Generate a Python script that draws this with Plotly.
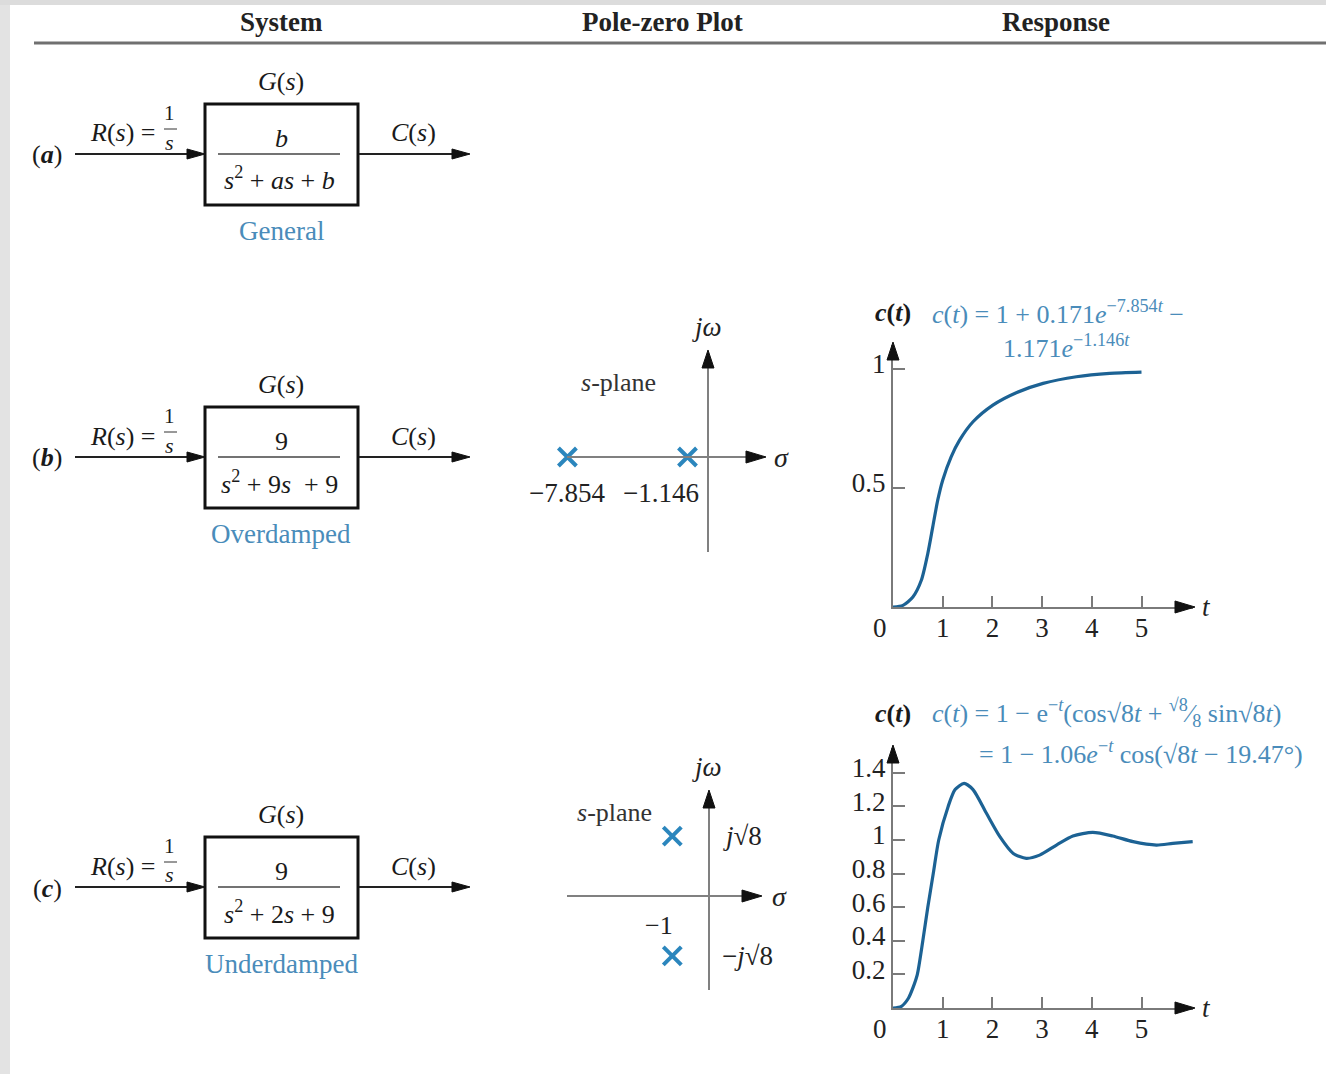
import plotly.graph_objects as go

W, H = 1326, 1074
FONT = "Liberation Serif, Times New Roman, serif"
BLUE_TXT = "#4a8cba"
CURVE = "#1c6294"
POLE = "#2b86bd"
DARK = "#1a1a1a"
AXIS_GREY = "#7a7a7a"

# ---------------- data ----------------
headers = ["System", "Pole-zero Plot", "Response"]
row_tags = ["a", "b", "c"]
numerators = ["<i>b</i>", "9", "9"]
denominators = ["<i>s</i><sup>2</sup> + <i>as</i> + <i>b</i>",
                "<i>s</i><sup>2</sup> + 9<i>s</i>  + 9",
                "<i>s</i><sup>2</sup> + 2<i>s</i> + 9"]
captions = ["General", "Overdamped", "Underdamped"]

poles_b_re = [-7.854, -1.146]
poles_b_im = [0, 0]
poles_c_re = [-1, -1]
poles_c_im = [2.828, -2.828]

t_over = [0, 0.2, 0.4, 0.57, 0.7, 0.8, 0.9, 1.0, 1.17, 1.34, 1.61, 2.01, 2.48, 3.02, 3.69, 4.36, 5.0]
c_over = [0, 0.007, 0.042, 0.112, 0.224, 0.336, 0.448, 0.532, 0.63, 0.70, 0.777, 0.847, 0.899, 0.938, 0.966, 0.98, 0.985]

t_under = [0, 0.17, 0.31, 0.41, 0.49, 0.60, 0.70, 0.81, 0.92, 1.11, 1.25, 1.43, 1.61, 1.88, 2.15,
           2.42, 2.68, 2.95, 3.29, 3.62, 4.02, 4.42, 4.83, 5.30, 5.63, 6.03]
c_under = [0, 0.01, 0.058, 0.127, 0.2, 0.4, 0.6, 0.8, 1.0, 1.2, 1.30, 1.337, 1.30, 1.159, 1.02,
           0.92, 0.891, 0.91, 0.97, 1.024, 1.045, 1.024, 0.99, 0.97, 0.98, 0.99]

ticks_t = [1, 2, 3, 4, 5]
ticks_over_y = [0.5, 1]
ticks_under_y = [0.2, 0.4, 0.6, 0.8, 1, 1.2, 1.4]

# ---------------- helpers (pixel -> paper) ----------------
def px(x):
    return x / W

def py(y):
    return 1 - y / H

shapes = []
annotations = []

def line(x0, y0, x1, y1, color=DARK, width=2):
    shapes.append(dict(type="line", xref="paper", yref="paper",
                       x0=px(x0), y0=py(y0), x1=px(x1), y1=py(y1),
                       line=dict(color=color, width=width)))

def rect(x0, y0, x1, y1, color=None, width=0, fill=None, layer="above"):
    shapes.append(dict(type="rect", xref="paper", yref="paper", layer=layer,
                       x0=px(x0), y0=py(y0), x1=px(x1), y1=py(y1),
                       line=dict(color=color or "rgba(0,0,0,0)", width=width),
                       fillcolor=fill or "rgba(0,0,0,0)"))

def head(xt, yt, direction, L=18, hw=5, color="#111"):
    if direction == "right":
        pts = [(xt, yt), (xt - L, yt - hw), (xt - L, yt + hw)]
    else:
        pts = [(xt, yt), (xt - hw, yt + L), (xt + hw, yt + L)]
    path = "M " + " L ".join(f"{px(a):.5f},{py(b):.5f}" for a, b in pts) + " Z"
    shapes.append(dict(type="path", xref="paper", yref="paper", path=path,
                       fillcolor=color, line=dict(color=color, width=1)))

def text(x, y, s, size=26, color=DARK, xanchor="center"):
    annotations.append(dict(x=px(x), y=py(y), xref="paper", yref="paper", text=s,
                            showarrow=False, xanchor=xanchor, yanchor="middle",
                            font=dict(family=FONT, size=size, color=color)))

# ---------------- background frame ----------------
rect(0, 0, 10, H, fill="#e3e3e3", layer="below")
rect(0, 0, W, 5, fill="#dcdcdc", layer="below")

# ---------------- headers ----------------
for hx, htxt in zip([281, 662, 1056], headers):
    text(hx, 22, f"<b>{htxt}</b>", 27, "#222")
line(34, 43, W, 43, "#707070", 3)

# ---------------- block diagrams ----------------
line_y = [154, 457, 887]
for i, ly in enumerate(line_y):
    text(47, ly + 1, f"(<b><i>{row_tags[i]}</i></b>)", 26, DARK)
    line(75, ly, 190, ly, "#222", 2)
    head(205, ly, "right", 18, 5)
    rect(205, ly - 50, 358, ly + 51, color="#111", width=3)
    line(218, ly, 340, ly, "#444", 1.5)
    text(281, ly - 16, numerators[i], 26)
    text(279, ly + 25, denominators[i], 26)
    text(281, ly - 73, "<i>G</i>(<i>s</i>)", 26)
    text(281, ly + 77, captions[i], 27, BLUE_TXT)
    text(158, ly - 21, "<i>R</i>(<i>s</i>) =", 26, xanchor="right")
    text(170, ly - 41, "1", 21)
    line(164, ly - 25, 177, ly - 25, "#333", 1)
    text(170, ly - 12, "<i>s</i>", 22)
    line(359, ly, 455, ly, "#222", 2)
    head(470, ly, "right", 18, 5)
    text(413, ly - 21, "<i>C</i>(<i>s</i>)", 26)

# ---------------- response axes geometry ----------------
OX = 893
T_PX = 49.7
X_END = 1193
RB_Y0, RB_TOP, RB_K = 607, 345, 238.4
RC_Y0, RC_TOP, RC_K = 1008, 748, 168.0

tick_font = dict(family=FONT, size=27, color="#222")

def resp_xaxis(anchor):
    return dict(domain=[px(OX), px(X_END)], range=[0, (X_END - OX) / T_PX], anchor=anchor,
                showline=True, linecolor=AXIS_GREY, linewidth=2, ticks="inside", ticklen=11,
                tickwidth=1.5, tickcolor=AXIS_GREY, tickvals=ticks_t, tickfont=tick_font,
                showgrid=False, zeroline=False, ticklabelstandoff=-4, fixedrange=True)

def resp_yaxis(anchor, y0, top, k, tv):
    return dict(domain=[py(y0), py(top)], range=[0, (y0 - top) / k], anchor=anchor,
                showline=True, linecolor=AXIS_GREY, linewidth=2, ticks="inside", ticklen=12,
                tickwidth=1.5, tickcolor=AXIS_GREY, tickvals=tv, tickfont=tick_font,
                showgrid=False, zeroline=False, ticklabelshift=-5, fixedrange=True)

for y0, top in [(RB_Y0, RB_TOP), (RC_Y0, RC_TOP)]:
    head(X_END + 2, y0, "right", 20, 6)
    head(OX, top - 3, "up", 18, 6)
    text(880, y0 + 21, "0", 27, "#222")
    text(1206, y0, "<i>t</i>", 27, "#222")

text(893, 312, "<b><i>c</i>(<i>t</i>)</b>", 26, DARK)
text(930, 312, "<i>c</i>(<i>t</i>) = 1 + 0.171<i>e</i><sup>−7.854<i>t</i></sup> −", 26, BLUE_TXT, "left")
text(1001, 346, "1.171<i>e</i><sup>−1.146<i>t</i></sup>", 26, BLUE_TXT, "left")

text(893, 713, "<b><i>c</i>(<i>t</i>)</b>", 26, DARK)
text(930, 713, "<i>c</i>(<i>t</i>) = 1 − e<sup>−<i>t</i></sup>(cos√8<i>t</i> + <sup>√8</sup>⁄<sub>8</sub> sin√8<i>t</i>)",
     26, BLUE_TXT, "left")
text(977, 752, "= 1 − 1.06<i>e</i><sup>−<i>t</i></sup> cos(√8<i>t</i> − 19.47°)", 26, BLUE_TXT, "left")

# ---------------- pole-zero geometry ----------------
PB_O = (708, 457); PB_KX, PB_KY = 17.9, 20.0
PC_O = (709, 896); PC_KX, PC_KY = 36.7, 21.2
PZ_X = (540, 800)
PB_Y = (560, 340)
PC_Y = (1000, 760)

def pz_axes(o, kx, ky, yb, anchor_x, anchor_y):
    xa = dict(domain=[px(PZ_X[0]), px(PZ_X[1])],
              range=[(PZ_X[0] - o[0]) / kx, (PZ_X[1] - o[0]) / kx],
              visible=False, anchor=anchor_y, fixedrange=True)
    ya = dict(domain=[py(yb[0]), py(yb[1])],
              range=[(o[1] - yb[0]) / ky, (o[1] - yb[1]) / ky],
              visible=False, anchor=anchor_x, fixedrange=True)
    return xa, ya

PZ_GREY = "#808080"
# (b) s-plane
line(567, 457, 750, 457, PZ_GREY, 2)
head(766, 457, "right", 20, 6)
line(708, 552, 708, 365, PZ_GREY, 2)
head(708, 350, "up", 18, 6)
text(781, 457, "<i>σ</i>", 28, "#222")
text(707, 327, "<i>jω</i>", 27, "#222")
text(618, 382, "<i>s</i>-plane", 26, "#333")
# (c) s-plane
line(567, 896, 745, 896, PZ_GREY, 2)
head(762, 896, "right", 20, 6)
line(709, 990, 709, 805, PZ_GREY, 2)
head(709, 790, "up", 18, 6)
text(779, 896, "<i>σ</i>", 28, "#222")
text(707, 767, "<i>jω</i>", 27, "#222")
text(614, 812, "<i>s</i>-plane", 26, "#333")

label_shift_b = [0, -26]
for re, sh in zip(poles_b_re, label_shift_b):
    annotations.append(dict(x=re, y=0, xref="x3", yref="y3", text=f"−{abs(re):.3f}",
                            showarrow=False, yshift=-36, xshift=sh,
                            font=dict(family=FONT, size=27, color="#222")))
annotations.append(dict(x=poles_c_re[0], y=0, xref="x4", yref="y4", text="−1",
                        showarrow=False, xshift=-13, yshift=-29,
                        font=dict(family=FONT, size=26, color="#222")))
for im, lab in zip(poles_c_im, ["<i>j</i>√8", "−<i>j</i>√8"]):
    annotations.append(dict(x=0, y=im, xref="x4", yref="y4", text=lab, showarrow=False,
                            xanchor="left", xshift=12 if im > 0 else 11,
                            font=dict(family=FONT, size=27, color="#222")))

# ---------------- figure ----------------
fig = go.Figure()
fig.add_trace(go.Scatter(x=t_over, y=c_over, mode="lines", xaxis="x", yaxis="y",
                         line=dict(color=CURVE, width=3.2, shape="spline", smoothing=0.7),
                         cliponaxis=False, hoverinfo="skip"))
fig.add_trace(go.Scatter(x=t_under, y=c_under, mode="lines", xaxis="x2", yaxis="y2",
                         line=dict(color=CURVE, width=3.2, shape="spline", smoothing=0.7),
                         cliponaxis=False, hoverinfo="skip"))
fig.add_trace(go.Scatter(x=poles_b_re, y=poles_b_im, mode="markers", xaxis="x3", yaxis="y3",
                         marker=dict(symbol="x-thin", size=18, color=POLE,
                                     line=dict(width=4, color=POLE)),
                         cliponaxis=False, hoverinfo="skip"))
fig.add_trace(go.Scatter(x=poles_c_re, y=poles_c_im, mode="markers", xaxis="x4", yaxis="y4",
                         marker=dict(symbol="x-thin", size=18, color=POLE,
                                     line=dict(width=4, color=POLE)),
                         cliponaxis=False, hoverinfo="skip"))

xa3, ya3 = pz_axes(PB_O, PB_KX, PB_KY, PB_Y, "x3", "y3")
xa4, ya4 = pz_axes(PC_O, PC_KX, PC_KY, PC_Y, "x4", "y4")

fig.update_layout(
    width=W, height=H, margin=dict(l=0, r=0, t=0, b=0),
    paper_bgcolor="white", plot_bgcolor="rgba(0,0,0,0)",
    showlegend=False, font=dict(family=FONT, color=DARK),
    xaxis=resp_xaxis("y"),
    yaxis=resp_yaxis("x", RB_Y0, RB_TOP, RB_K, ticks_over_y),
    xaxis2=resp_xaxis("y2"),
    yaxis2=resp_yaxis("x2", RC_Y0, RC_TOP, RC_K, ticks_under_y),
    xaxis3=xa3, yaxis3=ya3, xaxis4=xa4, yaxis4=ya4,
    shapes=shapes, annotations=annotations,
)

fig.write_html("out.html", config={"displayModeBar": False},
               post_script="document.body.style.margin='0';")
